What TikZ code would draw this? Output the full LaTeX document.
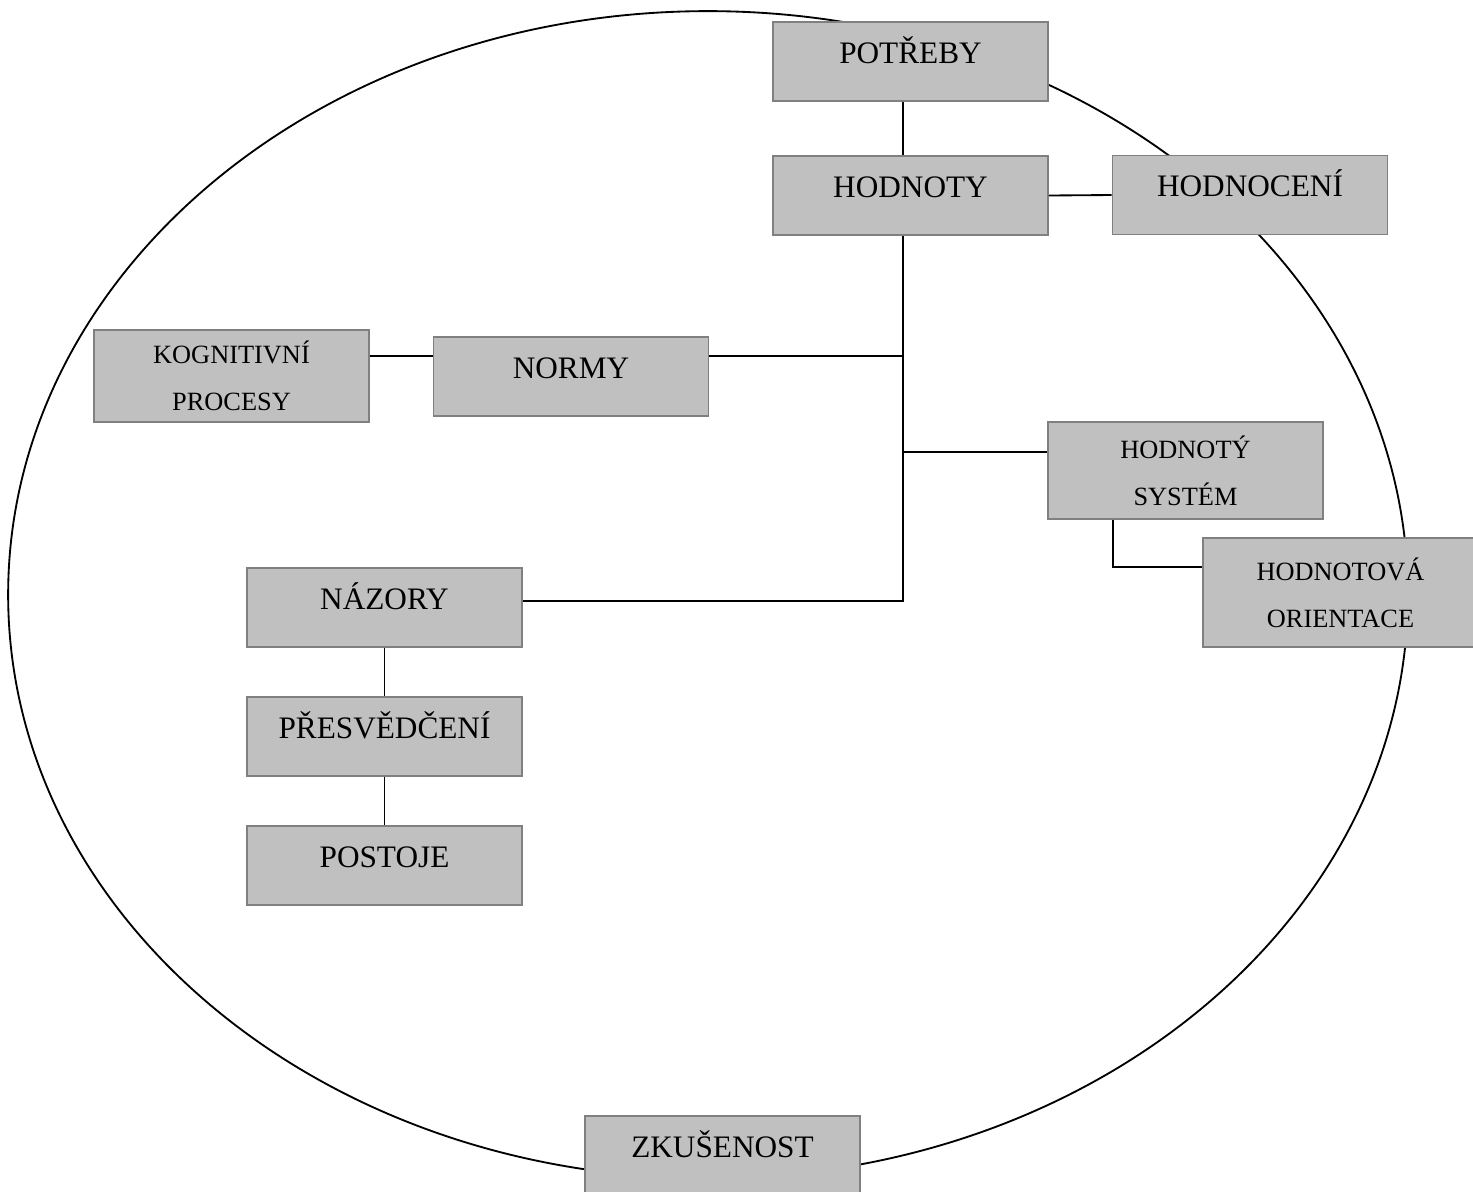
\documentclass[tikz,border=0pt]{standalone}
\usepackage{fontspec}
\setmainfont{Liberation Serif}
\usepackage{tikz}
\usetikzlibrary{positioning}
\definecolor{boxfill}{HTML}{C0C0C0}
\definecolor{boxline}{HTML}{808080}

\begin{document}
\begin{tikzpicture}[
x=0.02cm, y=-0.02cm,
valuebox/.style={rectangle, draw=boxline, fill=boxfill, line width=1pt, inner sep=0pt, minimum width=5.5cm},
onenode/.style={valuebox, minimum height=1.58cm, text height=0.82cm, text depth=0.76cm, font=\fontsize{17.8pt}{21pt}\selectfont},
twonode/.style={valuebox, align=center, font=\fontsize{15pt}{26.7pt}\selectfont},
link/.style={draw=black, line width=1.05pt},
]
\useasboundingbox (0,0) rectangle (1473,1191);

%Circle
\draw[link] (708,594.7) ellipse [x radius=14cm, y radius=11.674cm];

%Nodes
\node[onenode]  (potreby)     at (910.5,61.5)  {POTŘEBY};
\node[onenode]  (hodnoty)     at (910.5,195.5) {HODNOTY};
\node[onenode]  (hodnoceni)   at (1250,195)    {HODNOCENÍ};
\node[twonode, minimum height=1.84cm] (kognitivni) at (231.5,376) {KOGNITIVNÍ\\PROCESY};
\node[onenode]  (normy)       at (571,376.5)   {NORMY};
\node[twonode, minimum height=1.94cm] (system) at (1185.5,470.5) {HODNOTÝ\\SYSTÉM};
\node[twonode, minimum height=2.18cm] (orientace) at (1340.5,592.5) {HODNOTOVÁ\\ORIENTACE};
\node[onenode]  (nazory)      at (384.5,607.5) {NÁZORY};
\node[onenode]  (presvedceni) at (384.5,736.5) {PŘESVĚDČENÍ};
\node[onenode]  (postoje)     at (384.5,865.5) {POSTOJE};
\node[onenode]  (zkusenost)   at (722.5,1155.5) {ZKUŠENOST};

%Joints
\coordinate (trunk)  at (903,601);
\coordinate (njoint) at (903,356);
\coordinate (sjoint) at (903,452);
\coordinate (oknee)  at (1113,567);

%Lines
\draw[link] (potreby.south -| trunk) -- (hodnoty.north -| trunk);
\draw[link] (hodnoty.east) -- (hodnoceni.west);
\draw[link] (hodnoty.south -| trunk) -- (trunk) -- (trunk -| nazory.east);
\draw[link] (njoint) -- (njoint -| normy.east);
\draw[link] (kognitivni.east |- njoint) -- (normy.west |- njoint);
\draw[link] (sjoint) -- (sjoint -| system.west);
\draw[link] (system.south -| oknee) -- (oknee) -- (oknee -| orientace.west);
\draw[link] (nazory.south) -- (presvedceni.north);
\draw[link] (presvedceni.south) -- (postoje.north);
\end{tikzpicture}
\end{document}
